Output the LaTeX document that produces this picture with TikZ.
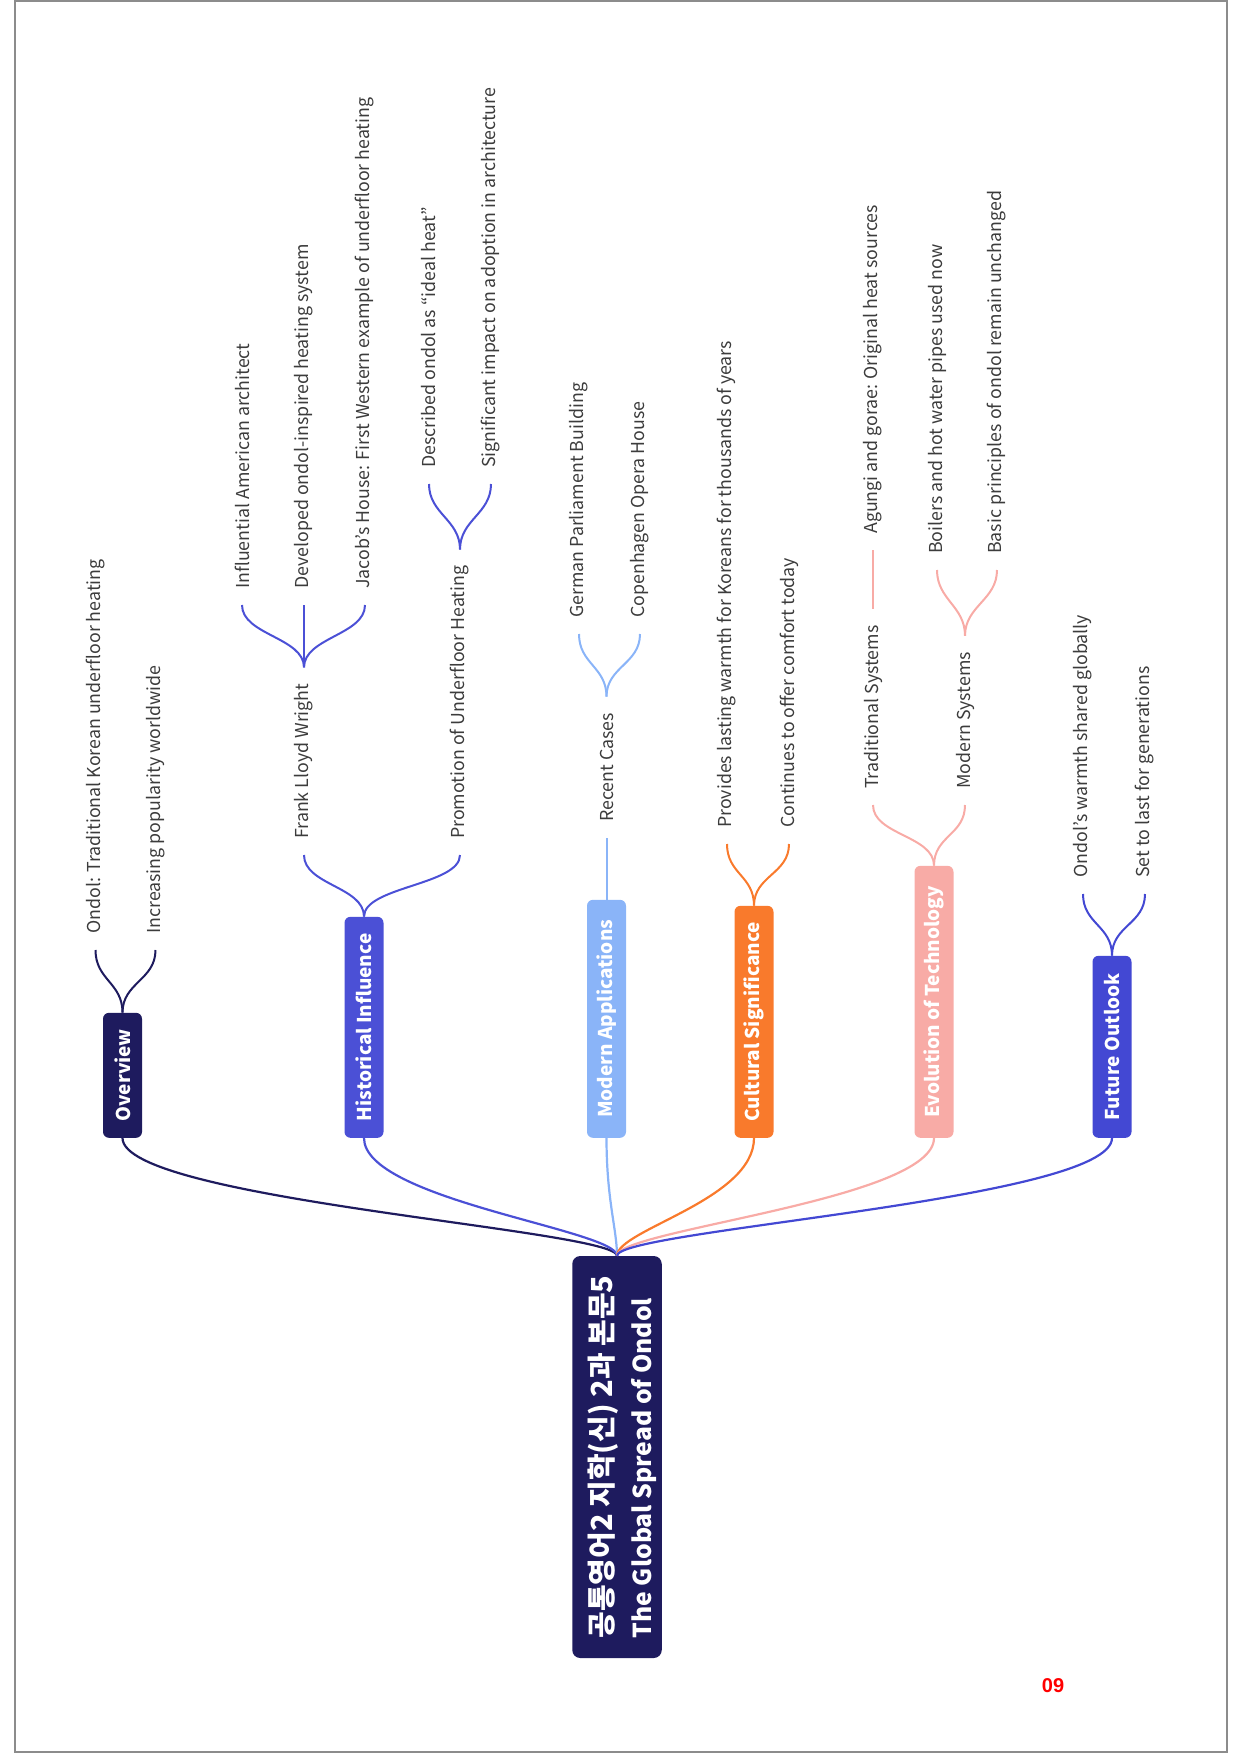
\documentclass[tikz,border=0pt]{standalone}
\usepackage{fontspec}
\setmainfont{Noto Sans CJK KR}
\newfontfamily\numfont{Liberation Sans}
\usetikzlibrary{calc}

\definecolor{navy}{HTML}{1E1B5E}
\definecolor{hist}{HTML}{4B50D6}
\definecolor{modern}{HTML}{8AB4F8}
\definecolor{cult}{HTML}{F97A2C}
\definecolor{evol}{HTML}{F8ABA6}
\definecolor{future}{HTML}{4348D3}
\definecolor{leafgray}{HTML}{3C3C3C}
\definecolor{framegray}{HTML}{8C8C8C}

\tikzset{
  rootbox/.style={rotate=90, fill=navy, rounded corners=8pt, text=white,
    font=\fontsize{27}{39}\selectfont\bfseries, align=left,
    minimum width=402, minimum height=89.5, inner xsep=18, inner ysep=0},
  mainbox/.style={rotate=90, anchor=west, fill=#1, rounded corners=6pt, text=white,
    font=\fontsize{19}{23}\selectfont\bfseries, minimum height=39,
    inner ysep=0, inner xsep=16},
  leaf/.style={rotate=90, anchor=west, text=leafgray,
    font=\fontsize{17.8}{21}\selectfont, inner xsep=16, inner ysep=2},
  mainlink/.style={draw=#1, line width=2.2},
  forklink/.style={draw=#1, line width=2},
}

\begin{document}
\begin{tikzpicture}[x=1pt, y=-1pt]
\useasboundingbox (0,0) rectangle (1240,1754);
\draw[framegray, line width=2] (14.5,1) rectangle (1227,1752);

% central topic (the strut on the first line sets the text block a little lower)
\node[rootbox] (root) at (617,1457)
  {{\fontsize{29}{39}\selectfont\rule{0pt}{35pt}공통영어2 지학(신) 2과 본문5}\\
   {\fontsize{24.7}{39}\selectfont The Global Spread of Ondol}};

% main topics
\node[mainbox=navy,   minimum width=125] (ov) at (122.5,1138) {Overview};
\node[mainbox=hist,   minimum width=221] (hi) at (364,1138) {Historical Influence};
\node[mainbox=modern, minimum width=238] (mo) at (606.5,1138) {Modern Applications};
\node[mainbox=cult,   minimum width=232] (cu) at (754,1138) {Cultural Significance};
\node[mainbox=evol,   minimum width=272] (ev) at (934,1138) {Evolution of Technology};
\node[mainbox=future, minimum width=182] (fu) at (1112,1138) {Future Outlook};

% subtopics
\node[leaf] (o1) at (95.5,950) {Ondol: Traditional Korean underfloor heating};
\node[leaf] (o2) at (155.5,950) {Increasing popularity worldwide};

\node[leaf] (h1) at (304,855) {Frank Lloyd Wright};
\node[leaf] (h2) at (460,855) {Promotion of Underfloor Heating};
\node[leaf] (f1) at (242,605) {Influential American architect};
\node[leaf] (f2) at (304,605) {Developed ondol-inspired heating system};
\node[leaf] (f3) at (365,605) {Jacob's House: First Western example of underfloor heating};
\node[leaf] (p1) at (429,484) {Described ondol as “ideal heat”};
\node[leaf] (p2) at (491,484) {Significant impact on adoption in architecture};

\node[leaf] (m1) at (606.5,838) {Recent Cases};
\node[leaf] (r1) at (579,634) {German Parliament Building};
\node[leaf] (r2) at (640,634) {Copenhagen Opera House};

\node[leaf] (c1) at (727,844) {Provides lasting warmth for Koreans for thousands of years};
\node[leaf] (c2) at (789,844) {Continues to offer comfort today};

\node[leaf] (e1) at (873,805) {Traditional Systems};
\node[leaf] (e2) at (965,805) {Modern Systems};
\node[leaf] (t1) at (873,550) {Agungi and gorae: Original heat sources};
\node[leaf] (s1) at (937,570) {Boilers and hot water pipes used now};
\node[leaf] (s2) at (997,570) {Basic principles of ondol remain unchanged};

\node[leaf] (u1) at (1083,894) {Ondol's warmth shared globally};
\node[leaf] (u2) at (1145,894) {Set to last for generations};

% connectors from the central topic
\foreach \n/\c in {ov/navy, hi/hist, mo/modern, cu/cult, ev/evol, fu/future}
  \draw[mainlink=\c] (\n.west) .. controls +(0,62) and +(0,-26) .. (root.east);

% branch forks
\foreach \a/\b/\c in {ov/o1/navy, ov/o2/navy,
    hi/h1/hist, hi/h2/hist, h1/f1/hist, h1/f2/hist, h1/f3/hist, h2/p1/hist, h2/p2/hist,
    mo/m1/modern, m1/r1/modern, m1/r2/modern,
    cu/c1/cult, cu/c2/cult,
    ev/e1/evol, ev/e2/evol, e1/t1/evol, e2/s1/evol, e2/s2/evol,
    fu/u1/future, fu/u2/future}
  \draw[forklink=\c] (\a.east) .. controls +(0,-30) and +(0,30) .. (\b.west);

% page number
\node[text=red, font=\numfont\bfseries\fontsize{20}{24}\selectfont] (pg) at (1053,1686) {09};
\end{tikzpicture}
\end{document}
